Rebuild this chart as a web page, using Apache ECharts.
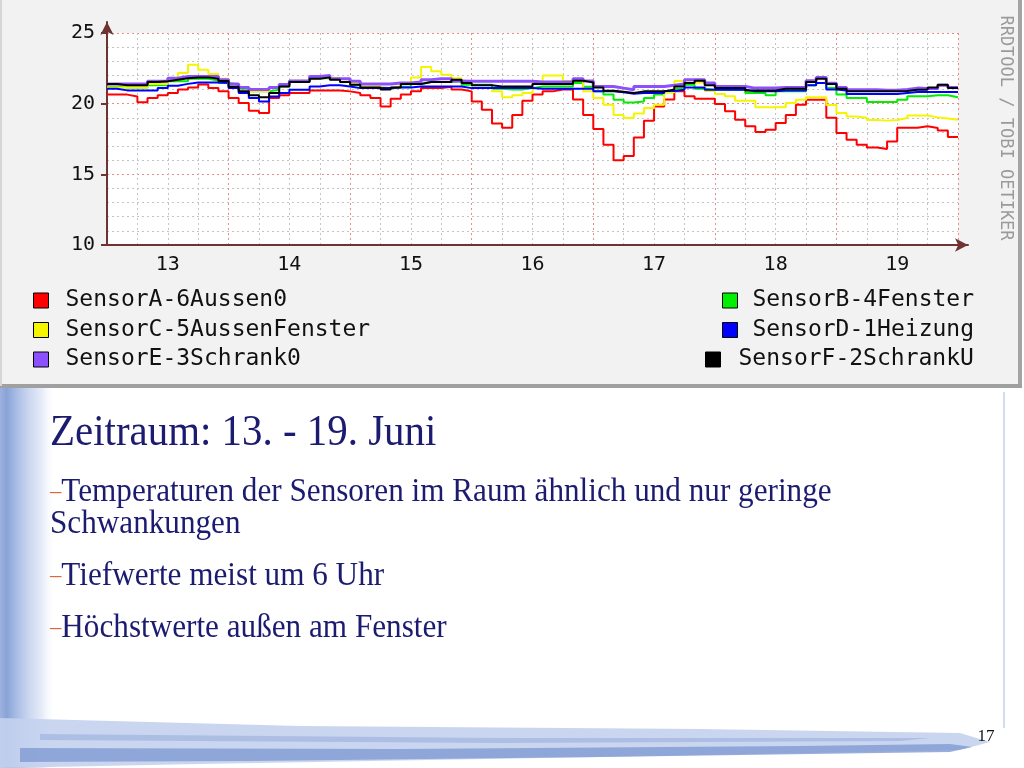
<!DOCTYPE html>
<html>
<head>
<meta charset="utf-8">
<script src="https://cdn.jsdelivr.net/npm/echarts@6/dist/echarts.min.js"></script>
<style>
html,body{margin:0;padding:0;background:#ffffff;}
#c{width:1024px;height:768px;}
</style>
</head>
<body>
<div id="c"></div>
<script>
// ---------- data ----------
const dayLabels = ['13', '14', '15', '16', '17', '18', '19'];
const stepHours = 2; // each value holds for 2 hours, starting 13. Juni 00:00
const seriesNames = ['SensorA-6Aussen0', 'SensorB-4Fenster', 'SensorC-5AussenFenster',
                     'SensorD-1Heizung', 'SensorE-3Schrank0', 'SensorF-2SchrankU'];
const seriesColors = ['#ff0000', '#00ee00', '#f5f500', '#0000ff', '#8c50ff', '#000000'];

const sensorA = [
  20.64, 20.64, 20.5, 20.1, 20.4, 20.6, 20.75, 21.0, 21.15, 21.35, 21.1, 20.87, 20.4, 20.05, 19.5, 19.34, 20.4, 20.6, 20.75, 20.75, 20.94,
  20.94, 20.94, 20.87, 20.75, 20.59, 20.4, 19.8, 20.35, 20.64, 20.87, 21.1, 21.1, 21.2, 21.0, 20.87, 20.16, 19.57, 18.6, 18.3, 19.2, 20.2,
  20.64, 20.87, 21.0, 21.0, 20.3, 19.2, 18.2, 17.1, 16.0, 16.3, 17.6, 18.8, 19.8, 20.3, 20.87, 20.52, 20.35, 20.35, 19.97, 19.46, 18.87,
  18.4, 18.0, 18.16, 18.63, 19.2, 19.93, 20.28, 20.28, 19.0, 17.92, 17.45, 17.1, 16.9, 16.79, 17.33, 18.3, 18.3, 18.4, 18.28, 18.1, 17.64
];
const sensorB = [
  21.2, 21.15, 21.15, 21.15, 21.3, 21.3, 21.58, 21.58, 21.77, 21.77, 21.63, 21.46, 21.35, 21.06, 20.87, 20.87, 20.99, 21.22, 21.58, 21.58, 21.8,
  21.8, 21.77, 21.53, 21.3, 21.15, 21.15, 21.06, 21.2, 21.2, 21.39, 21.53, 21.53, 21.53, 21.58, 21.34, 21.34, 21.34, 21.06, 21.0, 21.0, 21.1,
  21.22, 21.22, 21.22, 21.22, 21.46, 21.2, 20.87, 20.64, 20.28, 20.09, 20.15, 20.4, 20.64, 20.8, 21.06, 21.34, 21.06, 20.99, 20.99, 20.99, 20.99,
  20.75, 20.75, 20.59, 20.87, 20.87, 20.87, 21.3, 21.46, 21.1, 20.64, 20.4, 20.4, 20.12, 20.12, 20.12, 20.28, 20.52, 20.52, 20.59, 20.59, 20.45
];
const sensorC = [
  21.15, 21.15, 21.15, 21.15, 21.39, 21.39, 21.7, 22.17, 22.76, 22.4, 22.1, 21.77, 21.39, 21.1, 20.87, 20.87, 21.1, 21.39, 21.63, 21.63, 21.86,
  21.86, 21.8, 21.7, 21.39, 21.22, 21.22, 21.1, 21.22, 21.46, 21.85, 22.6, 22.3, 22.05, 21.8, 21.46, 21.1, 21.1, 20.87, 20.45, 20.6, 20.75,
  21.46, 22.0, 22.0, 21.6, 21.63, 20.87, 20.4, 19.93, 19.2, 18.98, 19.3, 19.69, 19.93, 20.8, 21.6, 21.7, 21.5, 20.9, 20.68, 20.52, 20.21,
  20.21, 19.74, 19.74, 19.74, 20.05, 20.28, 20.45, 20.45, 19.9, 19.34, 19.1, 19.0, 18.85, 18.8, 18.85, 18.98, 19.17, 19.17, 19.03, 18.95, 18.87
];
const sensorD = [
  21.06, 20.94, 20.94, 20.94, 20.94, 21.1, 21.27, 21.4, 21.5, 21.5, 21.5, 21.46, 21.1, 20.75, 20.4, 20.16, 20.5, 20.75, 20.99, 20.99, 21.22,
  21.3, 21.3, 21.22, 21.1, 21.1, 21.1, 21.1, 21.15, 21.15, 21.22, 21.22, 21.22, 21.22, 21.22, 21.1, 21.1, 21.1, 21.1, 21.1, 21.1, 21.1,
  21.06, 21.06, 21.06, 21.06, 21.06, 21.06, 20.87, 20.87, 20.8, 20.7, 20.75, 20.75, 20.75, 20.9, 20.99, 21.15, 21.15, 20.99, 20.99, 20.99, 20.99,
  20.87, 20.87, 20.87, 20.94, 20.94, 20.94, 21.3, 21.46, 21.0, 20.94, 20.68, 20.68, 20.68, 20.68, 20.68, 20.75, 20.82, 20.82, 20.82, 20.82, 20.82
];
const sensorE = [
  21.39, 21.39, 21.39, 21.39, 21.58, 21.58, 21.8, 21.93, 21.93, 21.93, 21.93, 21.7, 21.39, 21.15, 21.0, 21.0, 21.15, 21.35, 21.6, 21.6, 21.93,
  22.0, 21.77, 21.77, 21.58, 21.39, 21.39, 21.39, 21.46, 21.46, 21.53, 21.7, 21.77, 21.77, 21.6, 21.58, 21.58, 21.58, 21.58, 21.58, 21.58, 21.58,
  21.53, 21.53, 21.53, 21.53, 21.77, 21.6, 21.22, 21.22, 21.1, 20.99, 21.22, 21.22, 21.22, 21.3, 21.39, 21.7, 21.7, 21.46, 21.22, 21.22, 21.22,
  21.1, 21.1, 21.1, 21.15, 21.15, 21.15, 21.63, 21.86, 21.45, 21.15, 20.99, 20.99, 20.99, 20.95, 20.95, 21.0, 21.1, 21.08, 21.08, 21.3, 21.15
];
const sensorF = [
  21.39, 21.3, 21.3, 21.3, 21.53, 21.58, 21.7, 21.8, 21.86, 21.86, 21.77, 21.6, 21.2, 20.87, 20.6, 20.45, 20.75, 21.22, 21.53, 21.53, 21.77,
  21.86, 21.7, 21.53, 21.34, 21.15, 21.15, 21.0, 21.15, 21.39, 21.39, 21.53, 21.53, 21.53, 21.7, 21.46, 21.3, 21.3, 21.22, 21.22, 21.22, 21.22,
  21.39, 21.39, 21.39, 21.39, 21.63, 21.5, 21.15, 20.92, 20.85, 20.75, 20.87, 20.87, 20.87, 21.0, 21.22, 21.46, 21.63, 21.3, 21.1, 21.1, 21.1,
  20.94, 20.94, 20.94, 21.06, 21.06, 21.06, 21.53, 21.77, 21.4, 21.06, 20.87, 20.87, 20.87, 20.87, 20.87, 20.9, 20.99, 20.99, 21.15, 21.34, 21.1
];
const sensorValues = [sensorA, sensorB, sensorC, sensorD, sensorE, sensorF];

const slideTitle = 'Zeitraum: 13. - 19. Juni';
const bullet1a = 'Temperaturen der Sensoren im Raum ähnlich und nur geringe';
const bullet1b = 'Schwankungen';
const bullet2 = 'Tiefwerte meist um 6 Uhr';
const bullet3 = 'Höchstwerte außen am Fenster';
const pageNumber = '17';
const watermark = 'RRDTOOL / TOBI OETIKER';

// ---------- build ----------
function toSteps(vals) {
  const d = vals.map((v, i) => [i * stepHours, v]);
  d.push([vals.length * stepHours, vals[vals.length - 1]]);
  return d;
}

const series = sensorValues.map((vals, i) => ({
  name: seriesNames[i],
  type: 'line',
  xAxisIndex: 0,
  yAxisIndex: 0,
  step: 'end',
  symbol: 'none',
  color: seriesColors[i],
  lineStyle: { width: i === 4 ? 3 : 2, color: seriesColors[i] },
  data: toSteps(vals),
  z: 2 + i
}));

const monoFont = 'DejaVu Sans Mono';
const serif = 'Liberation Serif';
const navy = '#1b1b70';
const dashColor = '#e0673a';

const legendCommon = {
  orient: 'vertical',
  icon: 'rect',
  padding: 0,
  itemWidth: 15,
  itemHeight: 15,
  itemGap: 6.5,
  selectedMode: false,
  itemStyle: { borderColor: '#000000', borderWidth: 1 },
  textStyle: { fontFamily: monoFont, fontSize: 23, color: '#111111', padding: [0, 0, 0, 12] }
};

const chart = echarts.init(document.getElementById('c'), null, { renderer: 'canvas' });

const option = {
  animation: false,
  backgroundColor: '#ffffff',
  grid: [
    { left: 107, right: 66, top: 33, bottom: 523, show: true, backgroundColor: '#ffffff', borderWidth: 0 },
    { left: 107, right: 56, top: 22, bottom: 523, show: false }
  ],
  xAxis: [
    {
      type: 'value', gridIndex: 0, min: 0, max: 168, interval: 24,
      axisLine: { show: false }, axisTick: { show: false }, axisLabel: { show: false },
      splitLine: { show: true, lineStyle: { color: '#e68c8c', type: [2, 3], width: 1 } },
      minorTick: { show: false, splitNumber: 4 },
      minorSplitLine: { show: true, lineStyle: { color: '#c4c4c4', type: [2, 3], width: 1 } }
    },
    {
      type: 'category', gridIndex: 0, data: dayLabels, position: 'bottom', boundaryGap: true,
      axisLine: { show: false }, axisTick: { show: false }, splitLine: { show: false },
      axisLabel: { fontSize: 20, color: '#111111', margin: 10, fontFamily: monoFont }
    },
    {
      type: 'value', gridIndex: 1, min: 0, max: 1,
      axisLine: { show: true, symbol: ['none', 'arrow'], symbolSize: [10, 13], lineStyle: { color: '#6e3434', width: 2 } },
      axisTick: { show: false }, axisLabel: { show: false }, splitLine: { show: false }
    }
  ],
  yAxis: [
    {
      type: 'value', gridIndex: 0, min: 10, max: 25, interval: 5,
      axisLine: { show: false },
      axisTick: { show: true, length: 6, lineStyle: { color: '#6e3434', width: 2 } },
      axisLabel: { fontSize: 20, color: '#111111', margin: 12, fontFamily: monoFont },
      splitLine: { show: true, lineStyle: { color: '#e68c8c', type: [2, 3], width: 1 } },
      minorTick: { show: false, splitNumber: 5 },
      minorSplitLine: { show: true, lineStyle: { color: '#c4c4c4', type: [2, 3], width: 1 } }
    },
    {
      type: 'value', gridIndex: 1, min: 0, max: 1,
      axisLine: { show: true, symbol: ['none', 'arrow'], symbolSize: [10, 13], lineStyle: { color: '#6e3434', width: 2 } },
      axisTick: { show: false }, axisLabel: { show: false }, splitLine: { show: false }
    }
  ],
  legend: [
    Object.assign({}, legendCommon, { left: 33, top: 289, data: [seriesNames[0], seriesNames[2], seriesNames[4]] }),
    Object.assign({}, legendCommon, { left: 722, top: 289, textStyle: Object.assign({}, legendCommon.textStyle, { padding: [0, 0, 0, 10] }), data: [seriesNames[1], seriesNames[3]] }),
    Object.assign({}, legendCommon, { left: 705, top: 348, textStyle: Object.assign({}, legendCommon.textStyle, { padding: [0, 0, 0, 13] }), data: [seriesNames[5]] })
  ],
  graphic: [
    // screenshot frame of the RRD picture
    { type: 'rect', z: -20, shape: { x: 0, y: 0, width: 1021, height: 386 }, style: { fill: '#f2f2f2' } },
    { type: 'line', z: -19, shape: { x1: 1020, y1: 0, x2: 1020, y2: 388 }, style: { stroke: '#a4a4a4', lineWidth: 4 } },
    { type: 'line', z: -19, shape: { x1: 0, y1: 386, x2: 1022, y2: 386 }, style: { stroke: '#a0a0a0', lineWidth: 4 } },
    { type: 'line', z: -19, shape: { x1: 1, y1: 0, x2: 1, y2: 386 }, style: { stroke: '#d6d6d6', lineWidth: 2 } },
    // watermark
    {
      type: 'text', x: 1005, y: 128, rotation: -Math.PI / 2, z: 5,
      style: { text: watermark, fontFamily: monoFont, fontSize: 17, fill: '#9a9a9a', align: 'center', verticalAlign: 'middle' }
    },
    // slide decoration: left band
    {
      type: 'rect', z: -15, shape: { x: 0, y: 388, width: 56, height: 380 },
      style: {
        fill: new echarts.graphic.LinearGradient(0, 0, 1, 0, [
          { offset: 0, color: '#9cb2de' }, { offset: 0.12, color: '#8aa3d7' }, { offset: 0.3, color: '#a9bde5' },
          { offset: 0.5, color: '#c9d5ef' }, { offset: 0.75, color: '#e6ecf8' }, { offset: 1, color: 'rgba(255,255,255,0)' }
        ])
      }
    },
    { type: 'line', z: -14, shape: { x1: 1004, y1: 392, x2: 1004, y2: 728 }, style: { stroke: '#d3dcee', lineWidth: 2 } },
    // slide decoration: bottom band
    {
      type: 'polygon', z: -14,
      shape: { points: [[0, 718], [300, 726], [700, 729], [960, 733], [990, 742], [960, 750], [600, 757], [200, 764], [0, 768]] },
      style: { fill: 'rgba(196,210,238,0.9)' }
    },
    {
      type: 'polygon', z: -13,
      shape: { points: [[20, 748], [400, 749], [800, 746], [950, 744], [972, 747], [950, 752], [600, 757], [250, 761], [20, 762]] },
      style: { fill: 'rgba(128,154,210,0.8)' }
    },
    {
      type: 'polygon', z: -13,
      shape: { points: [[40, 734], [500, 738], [930, 738], [900, 741], [500, 743], [40, 740]] },
      style: { fill: 'rgba(150,172,220,0.55)' }
    },
    // slide texts
    {
      type: 'text', x: 50, y: 433, scaleX: 0.93,
      style: { text: slideTitle, fontFamily: serif, fontSize: 44, fill: navy, align: 'left', verticalAlign: 'middle' }
    },
    {
      type: 'text', x: 50, y: 492, scaleX: 0.945,
      style: {
        text: '{d|–}{t|' + bullet1a + '}', align: 'left', verticalAlign: 'middle',
        rich: { d: { fontFamily: serif, fontSize: 24, fill: dashColor }, t: { fontFamily: serif, fontSize: 33, fill: navy } }
      }
    },
    {
      type: 'text', x: 50, y: 524, scaleX: 0.945,
      style: { text: bullet1b, fontFamily: serif, fontSize: 33, fill: navy, align: 'left', verticalAlign: 'middle' }
    },
    {
      type: 'text', x: 50, y: 576, scaleX: 0.945,
      style: {
        text: '{d|–}{t|' + bullet2 + '}', align: 'left', verticalAlign: 'middle',
        rich: { d: { fontFamily: serif, fontSize: 24, fill: dashColor }, t: { fontFamily: serif, fontSize: 33, fill: navy } }
      }
    },
    {
      type: 'text', x: 50, y: 628, scaleX: 0.945,
      style: {
        text: '{d|–}{t|' + bullet3 + '}', align: 'left', verticalAlign: 'middle',
        rich: { d: { fontFamily: serif, fontSize: 24, fill: dashColor }, t: { fontFamily: serif, fontSize: 33, fill: navy } }
      }
    },
    {
      type: 'text', x: 986, y: 737,
      style: { text: pageNumber, fontFamily: serif, fontSize: 17, fill: '#111111', align: 'center', verticalAlign: 'middle' }
    }
  ],
  series: series
};

chart.setOption(option);
</script>
</body>
</html>
